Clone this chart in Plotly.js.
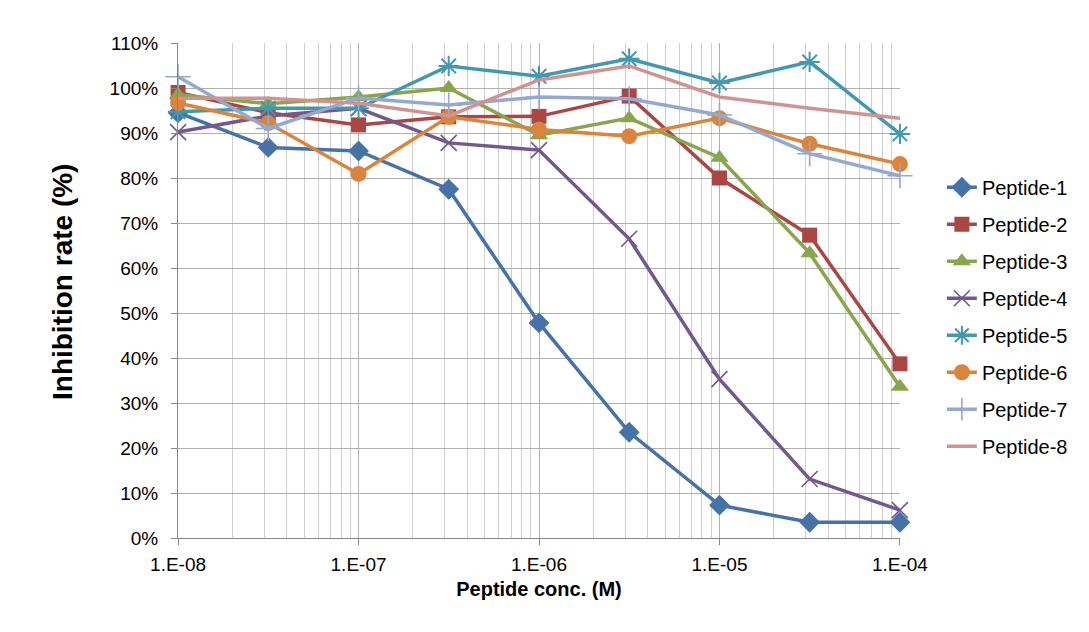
<!DOCTYPE html>
<html>
<head>
<meta charset="utf-8">
<script src="https://cdn.plot.ly/plotly-3.0.1.min.js"></script>
<style>html,body{margin:0;padding:0;background:#fff;}#chart{width:1089px;height:632px;}</style>
</head>
<body>
<div id="chart"></div>
<script>
// Peptide concentrations (M)
const conc = [1e-8, 3.16e-8, 1e-7, 3.16e-7, 1e-6, 3.16e-6, 1e-5, 3.16e-5, 1e-4];
// Inhibition rate (fraction)
const peptide1 = [0.945, 0.868, 0.860, 0.775, 0.478, 0.235, 0.073, 0.035, 0.035];
const peptide2 = [0.990, 0.945, 0.918, 0.936, 0.937, 0.982, 0.800, 0.673, 0.387];
const peptide3 = [0.985, 0.965, 0.980, 1.000, 0.895, 0.933, 0.845, 0.633, 0.336];
const peptide4 = [0.902, 0.938, 0.955, 0.878, 0.862, 0.665, 0.353, 0.131, 0.062];
const peptide5 = [0.947, 0.955, 0.955, 1.049, 1.026, 1.065, 1.011, 1.058, 0.898];
const peptide6 = [0.967, 0.922, 0.809, 0.936, 0.908, 0.893, 0.933, 0.876, 0.831];
const peptide7 = [1.025, 0.910, 0.978, 0.962, 0.980, 0.976, 0.940, 0.854, 0.805];
const peptide8 = [0.977, 0.977, 0.966, 0.938, 1.018, 1.049, 0.980, 0.955, 0.933];
const names = ["Peptide-1","Peptide-2","Peptide-3","Peptide-4","Peptide-5","Peptide-6","Peptide-7","Peptide-8"];
const series = [peptide1, peptide2, peptide3, peptide4, peptide5, peptide6, peptide7, peptide8];
const yTickVals = [0,0.1,0.2,0.3,0.4,0.5,0.6,0.7,0.8,0.9,1.0,1.1];
const yTickText = ["0%","10%","20%","30%","40%","50%","60%","70%","80%","90%","100%","110%"];
const xTickVals = [1e-8, 1e-7, 1e-6, 1e-5, 1e-4];
const xTickText = ["1.E-08","1.E-07","1.E-06","1.E-05","1.E-04"];
const xTitle = "Peptide conc. (M)";
const yTitle = "Inhibition rate (%)";

const colors = ["#4572A7","#AA4643","#89A54E","#71588F","#4198AF","#DB843D","#93A9CF","#D19392"];
const markers = [
  {symbol:"diamond", size:16},
  {symbol:"square", size:15},
  {symbol:"triangle-up", size:16},
  {symbol:"x-thin-open", size:16, line:{width:1.6}},
  {symbol:"asterisk-open", size:17, line:{width:2}},
  {symbol:"circle", size:16},
  {symbol:"cross-thin-open", size:18, line:{width:1.6}},
  null
];

const traces = series.map((ys, i) => {
  const m = markers[i];
  const t = {
    x: conc, y: ys, name: names[i], type: "scatter",
    mode: m ? "lines+markers" : "lines",
    line: {color: colors[i], width: 3.5},
    legendgroup: "g" + i,
    cliponaxis: false
  };
  if (m) {
    t.marker = Object.assign({color: colors[i]}, m);
    if (m.line) t.marker.line = Object.assign({color: colors[i]}, m.line);
  }
  return t;
});

const layout = {
  width: 1089, height: 632,
  margin: {l:178, r:189, t:43, b:94},
  paper_bgcolor: "#fff", plot_bgcolor: "#fff",
  font: {family: "Liberation Sans, Arial, sans-serif", color: "#000"},
  showlegend: true,
  legend: {
    x: 1.058, xanchor: "left", y: 0.748, yanchor: "top",
    font: {size: 20, color: "#000"},
    tracegroupgap: 8,
    bgcolor: "rgba(0,0,0,0)"
  },
  xaxis: {
    type: "log",
    range: [-8.0004, -3.9996],
    tickvals: xTickVals, ticktext: xTickText,
    tickfont: {size: 19},
    ticks: "outside", ticklen: 6, tickcolor: "#868686",
    ticklabelstandoff: 3,
    showline: true, linecolor: "#868686", linewidth: 1,
    showgrid: true, gridcolor: "#b0b0b0", gridwidth: 1,
    minor: {dtick: "D1", showgrid: true, gridcolor: "#cfcfcf", gridwidth: 1, ticks: ""},
    zeroline: false,
    title: {text: "<b>" + xTitle + "</b>", font: {size: 20}, standoff: 8}
  },
  yaxis: {
    range: [0, 1.1],
    tickvals: yTickVals, ticktext: yTickText,
    tickfont: {size: 19},
    ticks: "outside", ticklen: 6, tickcolor: "#868686",
    ticklabelstandoff: 9,
    showline: true, linecolor: "#868686", linewidth: 1,
    showgrid: true, gridcolor: "#b0b0b0", gridwidth: 1,
    zeroline: false
  },
  annotations: [{
    text: "<b>" + yTitle + "</b>",
    xref: "paper", yref: "paper",
    x: (62 - 178) / 722, y: (538 - 282) / 495,
    xanchor: "center", yanchor: "middle",
    textangle: -90, showarrow: false,
    font: {size: 28, color: "#000"}
  }]
};

Plotly.newPlot("chart", traces, layout, {displayModeBar: false, staticPlot: true});
</script>
</body>
</html>
